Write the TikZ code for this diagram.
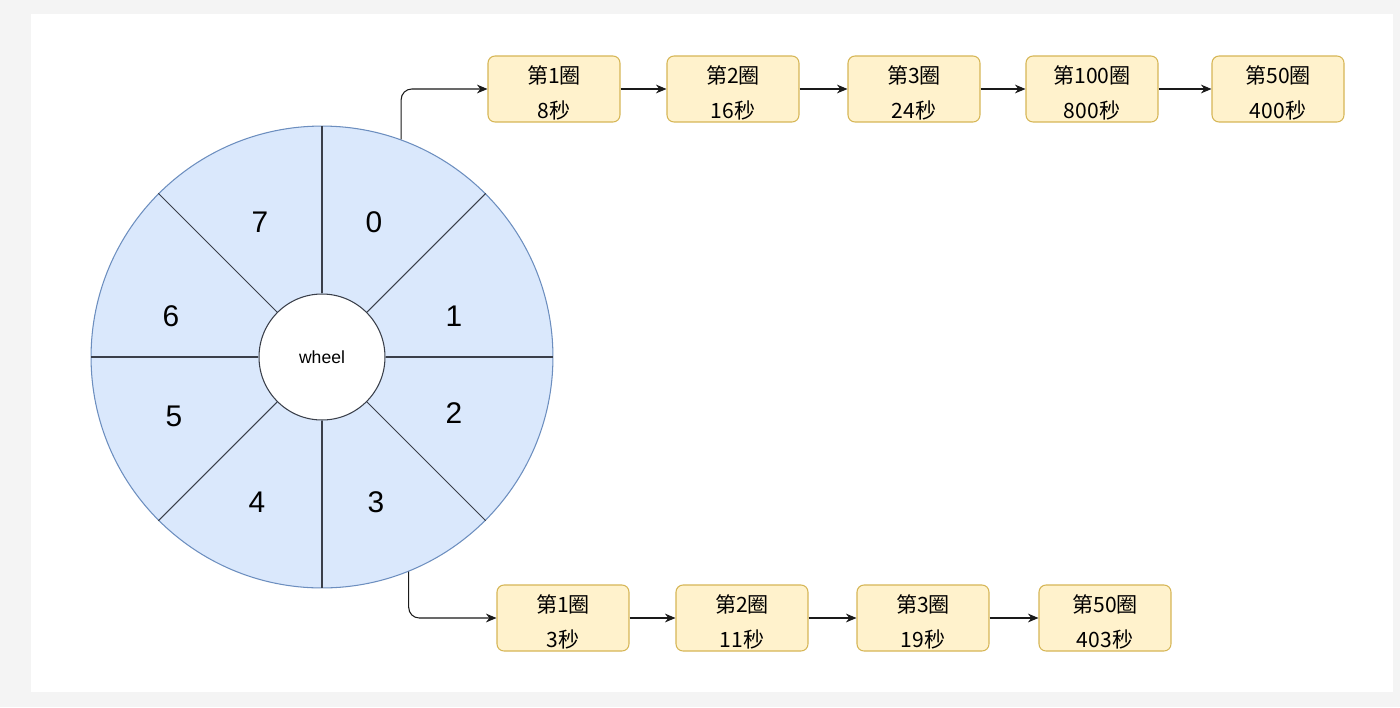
\documentclass[tikz,border=0pt]{standalone}
\usepackage{fontspec}
\setmainfont{Liberation Sans}
\newfontfamily\cjk{Noto Sans CJK SC}
\usetikzlibrary{arrows.meta}
\definecolor{bg}{HTML}{F4F4F4}
\definecolor{wheelfill}{HTML}{DAE8FC}
\definecolor{wheeldraw}{HTML}{6C8EBF}
\definecolor{spokecolor}{HTML}{3A3F4A}
\definecolor{cellfill}{HTML}{FFF2CC}
\definecolor{celldraw}{HTML}{D6B656}
\definecolor{linkcolor}{HTML}{1A1A1A}
\newcommand{\lift}{\rule{0pt}{14.5pt}}

\begin{document}
\begin{tikzpicture}[x=0.02cm, y=-0.02cm,
    lab/.style={font=\fontsize{17}{20}\selectfont},
    cell/.style={rectangle, rounded corners=4pt, draw=celldraw, fill=cellfill, line width=0.6pt,
                 minimum width=2.64cm, minimum height=1.32cm, inner sep=0pt,
                 align=center, font=\cjk\fontsize{12}{19.8}\selectfont},
    link/.style={linkcolor, line width=0.6pt, -{Stealth[length=6pt, width=5pt]}},
    spoke/.style={spokecolor, line width=0.6pt},
]
% ---------------------------------------------------------------- page
\fill[bg] (0,0) rectangle (1400,707);
\fill[white] (31,14) rectangle (1393,692);

% ---------------------------------------------------------------- the wheel
\node[circle, draw=wheeldraw, fill=wheelfill, line width=0.6pt,
      minimum size=9.24cm, inner sep=0pt] (wheel) at (322,357) {};
\node[circle, draw=spokecolor, fill=white, line width=0.6pt,
      minimum size=2.52cm, inner sep=0pt, font=\fontsize{10}{12}\selectfont] (hub) at (322,357) {wheel};
\foreach \a in {0,45,...,315}{
    \draw[spoke] (hub.\a) -- (wheel.\a);
}
% slot numbers
\foreach \n/\px/\py in {0/374/222, 1/454/316, 2/454/413, 3/376/502,
                        4/257/502, 5/174/416, 6/171/316, 7/260/222}{
    \node[lab] (s\n) at (\px,\py) {\n};
}

% ---------------------------------------------------------------- slot 0 list
\foreach \name/\px/\round/\sec in {t1/554/第1圈/8秒, t2/733/第2圈/16秒, t3/914/第3圈/24秒,
                                  t4/1092/第100圈/800秒, t5/1278/第50圈/400秒}{
    \node[cell] (\name) at (\px,89) {\lift\round\\\sec};
}

% ---------------------------------------------------------------- slot 3 list
\foreach \name/\px/\round/\sec in {b1/563/第1圈/3秒, b2/742/第2圈/11秒,
                                  b3/923/第3圈/19秒, b4/1105/第50圈/403秒}{
    \node[cell] (\name) at (\px,618) {\lift\round\\\sec};
}

% ---------------------------------------------------------------- links
\draw[link, rounded corners=6pt] (wheel.70.8) |- (t1.west);
\draw[link, rounded corners=6pt] (wheel.-68.1) |- (b1.west);
\foreach \a/\b in {t1/t2, t2/t3, t3/t4, t4/t5, b1/b2, b2/b3, b3/b4}{
    \draw[link] (\a) -- (\b);
}
\end{tikzpicture}
\end{document}
